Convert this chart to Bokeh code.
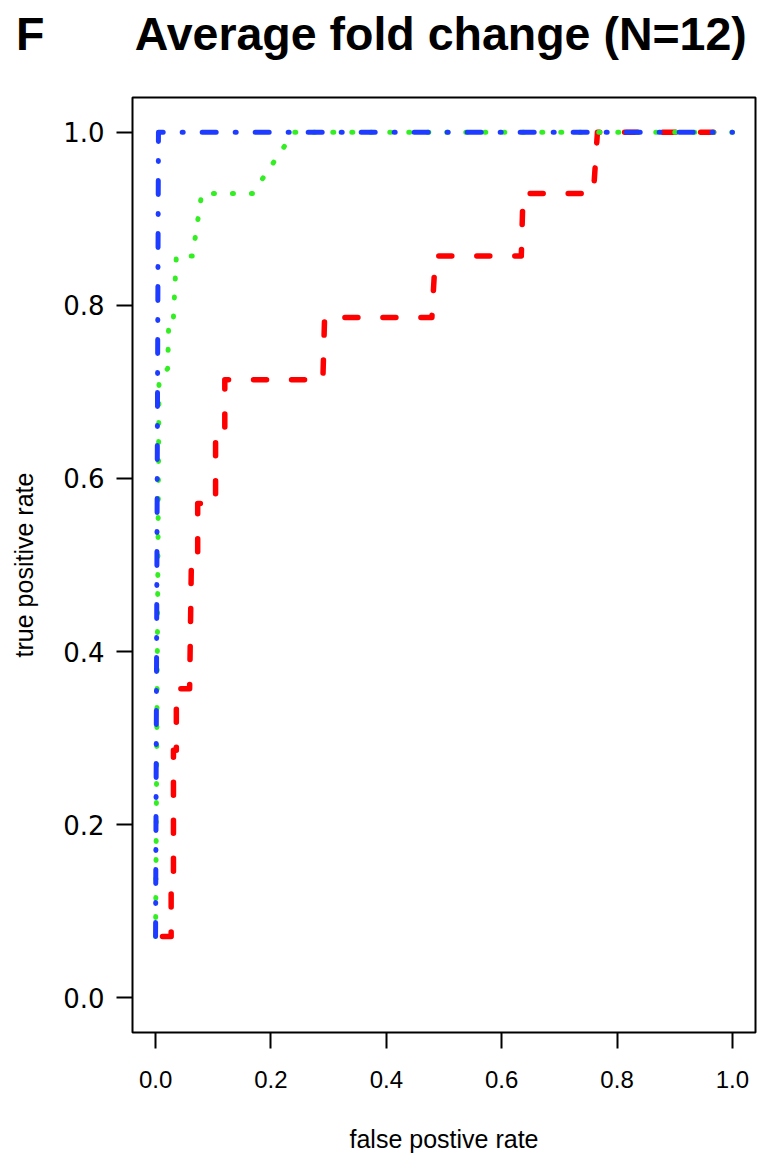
from bokeh.plotting import figure
from bokeh.models import Range1d, Title, FixedTicker, PrintfTickFormatter
from bokeh.layouts import column
from bokeh.embed import file_html
from bokeh.resources import INLINE

# ROC curves (false positive rate, true positive rate)
red_fpr = [0.012, 0.027, 0.027, 0.031, 0.031, 0.036, 0.036, 0.059, 0.062, 0.073, 0.073,
           0.104, 0.104, 0.120, 0.120, 0.290, 0.293, 0.479, 0.485, 0.634, 0.637, 0.759, 0.766, 1.0]
red_tpr = [0.071, 0.071, 0.143, 0.143, 0.286, 0.286, 0.357, 0.357, 0.500, 0.500, 0.571,
           0.571, 0.643, 0.643, 0.714, 0.714, 0.786, 0.786, 0.857, 0.857, 0.929, 0.929, 1.0, 1.0]

green_fpr = [0.0, 0.006, 0.021, 0.023, 0.031, 0.036, 0.064, 0.080, 0.168, 0.240, 1.0]
green_tpr = [0.071, 0.714, 0.727, 0.786, 0.786, 0.857, 0.857, 0.929, 0.929, 1.0, 1.0]

blue_fpr = [0.0, 0.005, 1.0]
blue_tpr = [0.071, 1.0, 1.0]

x_ticks = [0.0, 0.2, 0.4, 0.6, 0.8, 1.0]
y_ticks = [0.0, 0.2, 0.4, 0.6, 0.8, 1.0]

title_text = "Average fold change (N=12)"
panel_letter = "F"
x_title = "false postive rate"
y_title = "true positive rate"

W, H = 780, 1172
HEAD_H = 90

# ---- heading strip: panel letter + title (as a Bokeh Title) ----
head = figure(width=W, height=HEAD_H, x_range=Range1d(0, 1), y_range=Range1d(0, 1),
              x_axis_type=None, y_axis_type=None, output_backend="svg",
              toolbar_location=None, min_border_top=0, min_border_bottom=0)
head.outline_line_color = None
head.xgrid.visible = False
head.ygrid.visible = False
head.background_fill_color = "white"
head.border_fill_color = "white"
heading = panel_letter + "\u00a0" * 7 + title_text
head.add_layout(Title(text=heading, align="left", offset=-116.5, vertical_align="top",
                      standoff=14, text_font="Liberation Sans", text_font_size="46.5px",
                      text_font_style="bold", text_color="black"), "above")

# ---- main ROC plot ----
p = figure(width=W, height=H - HEAD_H,
           x_range=Range1d(-0.04, 1.04), y_range=Range1d(-0.04, 1.04),
           output_backend="svg", toolbar_location=None,
           min_border_left=132, min_border_right=25,
           min_border_top=97 - HEAD_H, min_border_bottom=140)

p.xgrid.visible = False
p.ygrid.visible = False
p.outline_line_color = "black"
p.outline_line_width = 2
p.background_fill_color = "white"
p.border_fill_color = "white"

for ax in (p.xaxis[0], p.yaxis[0]):
    ax.axis_line_color = None
    ax.major_tick_line_color = "black"
    ax.major_tick_line_width = 2
    ax.major_tick_out = 16
    ax.major_tick_in = 0
    ax.minor_tick_line_color = None
    ax.major_label_text_color = "black"
    ax.axis_label_text_color = "black"
    ax.axis_label_text_font_style = "normal"
    ax.formatter = PrintfTickFormatter(format="%.1f")

p.xaxis.ticker = FixedTicker(ticks=x_ticks)
p.yaxis.ticker = FixedTicker(ticks=y_ticks)

p.xaxis.axis_label = x_title
p.yaxis.axis_label = y_title

p.xaxis.major_label_text_font = "Liberation Sans"
p.xaxis.major_label_text_font_size = "24px"
p.xaxis.major_label_standoff = 22
p.xaxis.axis_label_text_font = "Liberation Sans"
p.xaxis.axis_label_text_font_size = "25px"
p.xaxis.axis_label_standoff = 34

p.yaxis.major_label_text_font = "DejaVu Sans"
p.yaxis.major_label_text_font_size = "26px"
p.yaxis.major_label_standoff = 12
p.yaxis.axis_label_text_font = "Liberation Sans"
p.yaxis.axis_label_text_font_size = "25px"
p.yaxis.axis_label_standoff = 22

# curves: red (dashed), green (dotted), blue (dot-dash) on top
p.line(red_fpr, red_tpr, line_color="#FF0000", line_width=5.5,
       line_dash="13 25", line_cap="round", line_join="round")
p.line(green_fpr, green_tpr, line_color="#33EE22", line_width=5,
       line_dash="1 18", line_cap="round", line_join="round")
p.line(blue_fpr, blue_tpr, line_color="#1E3CFF", line_width=5,
       line_dash="14 19 1 19", line_cap="round", line_join="round")

layout = column(head, p, spacing=0)
open("out.html", "w").write(file_html(layout, INLINE))
